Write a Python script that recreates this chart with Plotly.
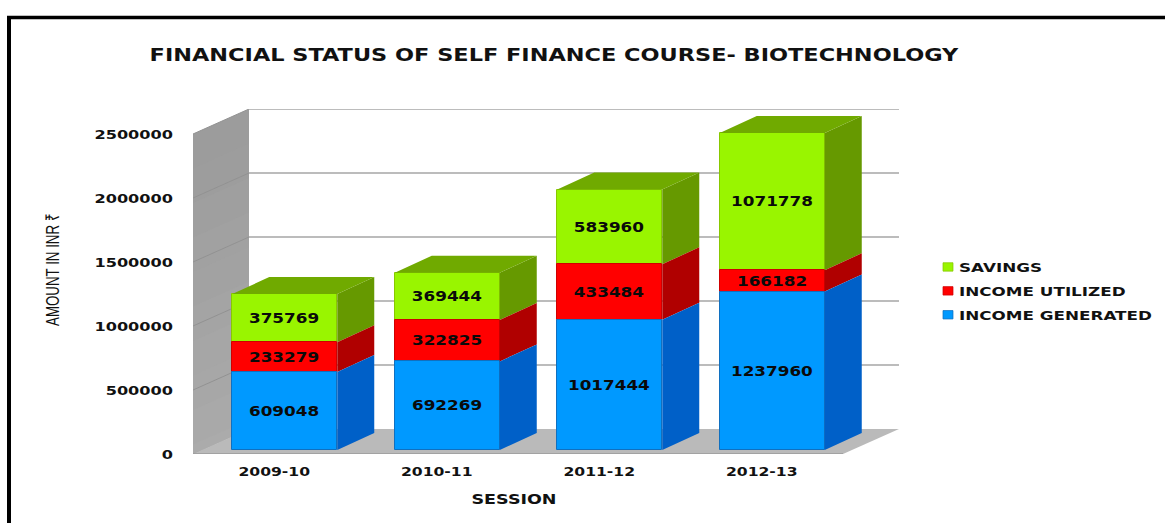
import plotly.graph_objects as go

sessions = ["2009-10", "2010-11", "2011-12", "2012-13"]
income_generated = [609048, 692269, 1017444, 1237960]
income_utilized = [233279, 322825, 433484, 166182]
savings = [375769, 369444, 583960, 1071778]
y_ticks = [0, 500000, 1000000, 1500000, 2000000, 2500000]

W, H = 1165, 523
PX_X = 162.5            # pixels per category
PX_Y = 64 / 500000      # pixels per rupee
L, R, B, T = 193, 899, 454, 109

def dx(px): return px / PX_X
def dy(px): return px / PX_Y

x_min = -0.5
x_max = x_min + dx(R - L)
y_max = dy(B - T)
front_right = x_min + len(sessions)
WALL_DX, WALL_DY = dx(56), dy(25)
BAR_DX, BAR_DY = dx(37), dy(17)
BAR_W = dx(105)
BAR_SHIFT = dx(10.5)
BAR_BASE = dy(4)

xs = [i + BAR_SHIFT for i in range(len(sessions))]

series = [
    ("SAVINGS", savings, "#99F500", "#669900", "#70AA00", "#88C800"),
    ("INCOME UTILIZED", income_utilized, "#FF0000", "#B00000", "#C00000", "#D00000"),
    ("INCOME GENERATED", income_generated, "#0099FF", "#0060C8", "#0070D0", "#1070C0"),
]

def stack_bases(name):
    order = [income_generated, income_utilized, savings]
    names = ["INCOME GENERATED", "INCOME UTILIZED", "SAVINGS"]
    out = [BAR_BASE] * len(sessions)
    for n, vals in zip(names, order):
        if n == name:
            return out
        out = [a + b for a, b in zip(out, vals)]
    return out

def poly(points):
    return "M" + " L".join(f"{a},{b}" for a, b in points) + " Z"

shapes = []
# left wall, painted in overlapping bands for its soft vertical shading
bands = 10
for k in range(bands):
    frac = k / bands
    level = int(156 + 17 * frac)
    top = y_max * (1 - frac)
    shapes.append(dict(type="path", layer="below", line_width=0,
                       fillcolor=f"rgb({level},{level},{level})",
                       path=poly([(x_min, 0), (x_min + WALL_DX, WALL_DY),
                                  (x_min + WALL_DX, top),
                                  (x_min, max(top - WALL_DY, 0))])))
# floor
shapes.append(dict(type="path", layer="below", line_width=0, fillcolor="#BABABA",
                   path=poly([(x_min, 0), (front_right, 0),
                              (front_right + WALL_DX, WALL_DY),
                              (x_min + WALL_DX, WALL_DY)])))
shapes.append(dict(type="line", layer="below", x0=x_min, x1=front_right, y0=0, y1=0,
                   line=dict(color="#9A9A9A", width=1.5)))
# gridlines on back wall and left wall
for v in y_ticks[1:]:
    shapes.append(dict(type="line", layer="below", x0=x_min + WALL_DX, x1=x_max,
                       y0=v + WALL_DY, y1=v + WALL_DY,
                       line=dict(color="#A6A6A6", width=1.5)))
    shapes.append(dict(type="line", layer="below", x0=x_min, x1=x_min + WALL_DX,
                       y0=v, y1=v + WALL_DY,
                       line=dict(color="#929292", width=1)))
# black page frame
shapes.append(dict(type="line", xref="paper", yref="paper", x0=9 / W, x1=9 / W,
                   y0=0, y1=1 - 16 / H, line=dict(color="black", width=4)))
shapes.append(dict(type="line", xref="paper", yref="paper", x0=7 / W, x1=1,
                   y0=1 - 17.5 / H, y1=1 - 17.5 / H, line=dict(color="black", width=3.5)))

fig = go.Figure()

for name, vals, front, side, top, edge in series:
    bases = stack_bases(name)
    fig.add_trace(go.Bar(
        x=xs, y=vals, base=bases, width=BAR_W, name=name, legendgroup=name,
        marker=dict(color=front, line=dict(color=edge, width=1)),
        text=[str(v) for v in vals], textposition="inside", insidetextanchor="middle",
        textangle=0, constraintext="none",
        insidetextfont=dict(family="DejaVu Sans", size=14, color="#0A0A0A", weight="bold"),
        hoverinfo="skip",
    ))

for name, vals, front, side, top, edge in series:
    bases = stack_bases(name)
    side_x, side_y = [], []
    for x, b, v in zip(xs, bases, vals):
        r = x + BAR_W / 2
        side_x += [r, r + BAR_DX, r + BAR_DX, r, r, None]
        side_y += [b, b + BAR_DY, b + v + BAR_DY, b + v, b, None]
    fig.add_trace(go.Scatter(x=side_x, y=side_y, mode="lines", fill="toself",
                             fillcolor=side, line=dict(width=0, color=side),
                             showlegend=False, hoverinfo="skip"))
    if name == "SAVINGS":
        top_x, top_y = [], []
        for x, b, v in zip(xs, bases, vals):
            l, r = x - BAR_W / 2, x + BAR_W / 2
            t = b + v
            top_x += [l, r, r + BAR_DX, l + BAR_DX, l, None]
            top_y += [t, t, t + BAR_DY, t + BAR_DY, t, None]
        fig.add_trace(go.Scatter(x=top_x, y=top_y, mode="lines", fill="toself",
                                 fillcolor=top, line=dict(width=0, color=top),
                                 showlegend=False, hoverinfo="skip"))

tick_font = dict(family="DejaVu Sans", size=13, color="#111111", weight="bold")

fig.update_layout(
    width=W, height=H, autosize=False,
    margin=dict(l=0, r=0, t=0, b=0),
    paper_bgcolor="white", plot_bgcolor="white",
    barmode="overlay", bargap=0,
    shapes=shapes,
    title=dict(text="FINANCIAL STATUS OF SELF FINANCE COURSE- BIOTECHNOLOGY",
               x=554 / W, xanchor="center", y=1 - 55 / H, yanchor="middle",
               xref="paper", yref="paper",
               font=dict(family="DejaVu Sans", size=18, color="#111111", weight="bold")),
    xaxis=dict(domain=[L / W, R / W], range=[x_min, x_max], tickmode="array",
               tickvals=list(range(len(sessions))), ticktext=sessions, showgrid=False,
               zeroline=False, showline=False, ticks="", ticklabelstandoff=8,
               tickfont=tick_font, automargin=False),
    yaxis=dict(domain=[(H - B) / H, (H - T) / H], range=[0, y_max], tickmode="array",
               tickvals=y_ticks, ticktext=[str(v) for v in y_ticks], showgrid=False,
               zeroline=False, showline=False, ticks="", ticklabelstandoff=19,
               tickfont=tick_font, automargin=False),
    legend=dict(x=919 / W, xanchor="left", y=1 - 252 / H, yanchor="top",
                traceorder="grouped", tracegroupgap=4, bgcolor="rgba(0,0,0,0)",
                font=dict(family="DejaVu Sans", size=13, color="#111111", weight="bold")),
    annotations=[
        dict(text="SESSION", xref="paper", yref="paper", x=514 / W, y=1 - 499 / H,
             xanchor="center", yanchor="middle", showarrow=False,
             font=dict(family="DejaVu Sans", size=14, color="#111111", weight="bold")),
        dict(text="AMOUNT IN INR ₹", xref="paper", yref="paper", x=52 / W, y=1 - 270 / H,
             xanchor="center", yanchor="middle", showarrow=False, textangle=-90,
             font=dict(family="Liberation Sans", size=19, color="#111111")),
    ],
)

# the reference's lettering is horizontally stretched: reproduce it on the real SVG text
POST = """
document.body.style.margin='0';
function stretch(sel,f){document.querySelectorAll(sel).forEach(function(t){
  var n=t.getComputedTextLength();
  t.setAttribute('textLength',n*f);t.setAttribute('lengthAdjust','spacingAndGlyphs');});}
stretch('.gtitle',1.245);stretch('.xtick text',1.2);stretch('.ytick text',1.24);
stretch('.bartext',1.2);stretch('.legendtext',1.29);
document.querySelectorAll('.annotation-text').forEach(function(t){
  var n=t.getComputedTextLength();var f=t.textContent.indexOf('AMOUNT')===0?0.70:1.25;
  t.setAttribute('textLength',n*f);t.setAttribute('lengthAdjust','spacingAndGlyphs');});
document.querySelectorAll('.legend .scrollbox').forEach(function(s){s.removeAttribute('clip-path');});
document.querySelectorAll('.legendpoints').forEach(function(g){
  g.setAttribute('transform','translate(29,0) scale(0.83,0.7) translate(-20,0)');});
"""

fig.write_html("out.html", post_script=POST, default_width=f"{W}px", default_height=f"{H}px",
               config={"displayModeBar": False, "responsive": False})
